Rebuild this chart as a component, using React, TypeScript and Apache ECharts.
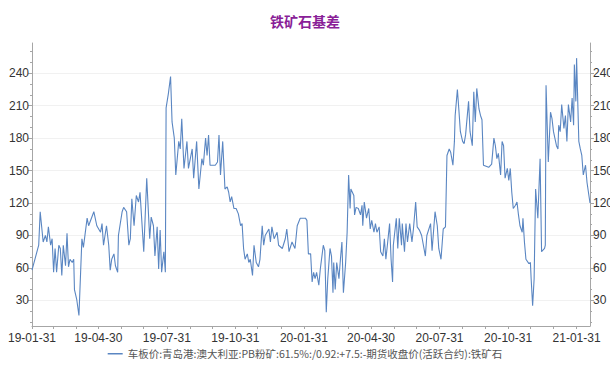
import React, { useEffect, useRef } from "react";
import * as echarts from "echarts";

const TITLE = "铁矿石基差";
const SERIES_NAME =
  "车板价:青岛港:澳大利亚:PB粉矿:61.5%:/0.92:+7.5:-期货收盘价(活跃合约):铁矿石";

// Basis observations (yuan/ton)
const dates: string[] = [
  "2019-01-31", "2019-02-09", "2019-02-11", "2019-02-15", "2019-02-18", "2019-02-20", "2019-02-22", "2019-02-25", "2019-02-27",
  "2019-03-01", "2019-03-03", "2019-03-05", "2019-03-08", "2019-03-10", "2019-03-12", "2019-03-14", "2019-03-17", "2019-03-19",
  "2019-03-21", "2019-03-23", "2019-03-26", "2019-03-28", "2019-03-29", "2019-04-01", "2019-04-04", "2019-04-08", "2019-04-10",
  "2019-04-15", "2019-04-17", "2019-04-24", "2019-04-28", "2019-05-03", "2019-05-05", "2019-05-07", "2019-05-11", "2019-05-14",
  "2019-05-16", "2019-05-18", "2019-05-21", "2019-05-23", "2019-05-26", "2019-05-27", "2019-06-01", "2019-06-03", "2019-06-07",
  "2019-06-10", "2019-06-12", "2019-06-14", "2019-06-17", "2019-06-20", "2019-06-23", "2019-06-25", "2019-06-30", "2019-07-04",
  "2019-07-08", "2019-07-10", "2019-07-13", "2019-07-15", "2019-07-18", "2019-07-20", "2019-07-22", "2019-07-24", "2019-07-27",
  "2019-07-29", "2019-07-30", "2019-08-02", "2019-08-05", "2019-08-07", "2019-08-10", "2019-08-12", "2019-08-16", "2019-08-18",
  "2019-08-20", "2019-08-23", "2019-08-27", "2019-08-29", "2019-09-03", "2019-09-05", "2019-09-09", "2019-09-12", "2019-09-16",
  "2019-09-18", "2019-09-21", "2019-09-23", "2019-09-25", "2019-09-27", "2019-10-04", "2019-10-07", "2019-10-09", "2019-10-11",
  "2019-10-14", "2019-10-17", "2019-10-20", "2019-10-22", "2019-10-24", "2019-10-26", "2019-10-29", "2019-11-01", "2019-11-04",
  "2019-11-07", "2019-11-09", "2019-11-11", "2019-11-13", "2019-11-16", "2019-11-18", "2019-11-20", "2019-11-23", "2019-11-25",
  "2019-11-28", "2019-12-01", "2019-12-03", "2019-12-06", "2019-12-08", "2019-12-10", "2019-12-15", "2019-12-17", "2019-12-19",
  "2019-12-22", "2019-12-26", "2019-12-28",
  "2020-01-02", "2020-01-06", "2020-01-08", "2020-01-11", "2020-01-15", "2020-01-19", "2020-01-22", "2020-01-26", "2020-02-02",
  "2020-02-04", "2020-02-06", "2020-02-09", "2020-02-11", "2020-02-13", "2020-02-15", "2020-02-17", "2020-02-20", "2020-02-22",
  "2020-02-26", "2020-02-28", "2020-03-01", "2020-03-03", "2020-03-06", "2020-03-08", "2020-03-10", "2020-03-11", "2020-03-13",
  "2020-03-15", "2020-03-18", "2020-03-20", "2020-03-22", "2020-03-24", "2020-03-27", "2020-03-29", "2020-03-31", "2020-04-02",
  "2020-04-03", "2020-04-07", "2020-04-08", "2020-04-10", "2020-04-13", "2020-04-16", "2020-04-18", "2020-04-19", "2020-04-21",
  "2020-04-24", "2020-04-27", "2020-04-29", "2020-05-01", "2020-05-04", "2020-05-06", "2020-05-08", "2020-05-11", "2020-05-13",
  "2020-05-16", "2020-05-18", "2020-05-20", "2020-05-22", "2020-05-25", "2020-05-27", "2020-05-29", "2020-05-30", "2020-06-03",
  "2020-06-05", "2020-06-07", "2020-06-10", "2020-06-11", "2020-06-14", "2020-06-16", "2020-06-18", "2020-06-21", "2020-06-24",
  "2020-06-26", "2020-06-29", "2020-07-01", "2020-07-04", "2020-07-07", "2020-07-12", "2020-07-14", "2020-07-19", "2020-07-21",
  "2020-07-25", "2020-07-28", "2020-07-30", "2020-08-02", "2020-08-05", "2020-08-08", "2020-08-10", "2020-08-13", "2020-08-15",
  "2020-08-18", "2020-08-20", "2020-08-21", "2020-08-24", "2020-08-26", "2020-08-28", "2020-08-31", "2020-09-02", "2020-09-04",
  "2020-09-08", "2020-09-10", "2020-09-13", "2020-09-15", "2020-09-17", "2020-09-19", "2020-09-22", "2020-09-24", "2020-09-26",
  "2020-09-28", "2020-10-05", "2020-10-09", "2020-10-12", "2020-10-14", "2020-10-16", "2020-10-18", "2020-10-21", "2020-10-23",
  "2020-10-25", "2020-10-27", "2020-10-30", "2020-11-01", "2020-11-03", "2020-11-05", "2020-11-07", "2020-11-10", "2020-11-12",
  "2020-11-14", "2020-11-16", "2020-11-19", "2020-11-20", "2020-11-22", "2020-11-24", "2020-11-28", "2020-11-30", "2020-12-01",
  "2020-12-03", "2020-12-05", "2020-12-07", "2020-12-10", "2020-12-12", "2020-12-13", "2020-12-15", "2020-12-19", "2020-12-20",
  "2020-12-21", "2020-12-24", "2020-12-27", "2020-12-29", "2020-12-31",
  "2021-01-04", "2021-01-06", "2021-01-07", "2021-01-09", "2021-01-11", "2021-01-14", "2021-01-16", "2021-01-18", "2021-01-20",
  "2021-01-23", "2021-01-25", "2021-01-27", "2021-01-28", "2021-01-30", "2021-01-31", "2021-02-03", "2021-02-05", "2021-02-07",
  "2021-02-09", "2021-02-12", "2021-02-14", "2021-02-18",
];

const values: number[] = [
  58, 81, 112, 84, 90, 84, 98, 81, 87,
  56, 78, 56, 81, 78, 53, 81, 62, 92,
  61, 68, 65, 68, 40, 31, 16, 87, 79,
  106, 99, 112, 99, 93, 101, 81, 99, 81,
  58, 68, 73, 62, 56, 90, 112, 116, 112,
  81, 87, 124, 99, 127, 121, 130, 75, 143,
  87, 107, 99, 71, 98, 59, 95, 56, 75,
  56, 208, 221, 237, 195, 180, 146, 177, 170,
  198, 152, 177, 152, 170, 143, 177, 133, 161,
  155, 180, 164, 183, 155, 155, 158, 183, 146,
  177, 133, 135, 130, 121, 126, 115, 115, 110,
  99, 101, 78, 68, 73, 65, 68, 53, 81,
  65, 61, 68, 99, 81, 90, 96, 84, 98,
  87, 93, 81,
  78, 87, 96, 75, 84, 78, 99, 106, 106,
  104, 73, 73, 47, 56, 50, 56, 44, 59,
  81, 76, 19, 50, 78, 71, 37, 65, 40,
  65, 50, 68, 84, 37, 65, 93, 146, 115,
  133, 127, 109, 116, 115, 109, 118, 99, 121,
  106, 115, 96, 104, 93, 101, 93, 98, 75,
  71, 87, 68, 81, 101, 68, 47, 81, 106,
  78, 106, 81, 101, 75, 101, 84, 101, 84,
  96, 121, 98, 95, 90, 71, 90, 101, 76,
  112, 99, 78, 68, 96, 98, 164, 170, 167,
  155, 177, 201, 225, 206, 186, 177, 175, 183,
  214, 186, 173, 223, 195, 226, 207, 201, 197,
  155, 153, 156, 180, 173, 161, 166, 146, 177,
  173, 143, 152, 141, 152, 130, 115, 118, 121,
  109, 99, 93, 106, 84, 68, 64, 65, 50,
  25, 50, 133, 106, 143, 161, 75, 78, 81,
  229, 158, 204, 198, 186,
  173, 170, 192, 186, 211, 189, 201, 177, 211,
  195, 217, 192, 248, 214, 254, 177, 170, 164,
  146, 155, 139, 120,
];

// Month-end tick marks and quarter-end labels on the date axis
const monthEndTicks: string[] = [
  "2019-01-31", "2019-02-28", "2019-03-31", "2019-04-30", "2019-05-31", "2019-06-30",
  "2019-07-31", "2019-08-31", "2019-09-30", "2019-10-31", "2019-11-30", "2019-12-31",
  "2020-01-31", "2020-02-29", "2020-03-31", "2020-04-30", "2020-05-31", "2020-06-30",
  "2020-07-31", "2020-08-31", "2020-09-30", "2020-10-31", "2020-11-30", "2020-12-31",
  "2021-01-31",
];
const quarterLabels: string[] = [
  "2019-01-31", "2019-04-30", "2019-07-31", "2019-10-31", "2020-01-31",
  "2020-04-30", "2020-07-31", "2020-10-31", "2021-01-31",
];
const yMajorTicks: number[] = [30, 60, 90, 120, 150, 180, 210, 240];
const yMinorTicks: number[] = [
  10, 20, 30, 40, 50, 60, 70, 80, 90, 100, 110, 120, 130,
  140, 150, 160, 170, 180, 190, 200, 210, 220, 230, 240, 250, 260,
];

const X_START = "2019-01-31";
const X_END = "2021-02-18";
const Y_MIN = 6.3;
const Y_MAX = 268;

const FONT = "'Liberation Sans', 'Noto Sans CJK SC', sans-serif";
const AXIS_COLOR = "#a6a6a6";
const LINE_COLOR = "#5a86c2";

// dates are kept as epoch milliseconds on a linear (value) axis
const toTime = (s: string) => +echarts.time.parse(s);

const pad2 = (n: number) => (n < 10 ? "0" + n : String(n));
const fmtDate = (v: number) => {
  const d = new Date(v);
  return `${String(d.getFullYear()).slice(2)}-${pad2(d.getMonth() + 1)}-${pad2(d.getDate())}`;
};

function makeYAxes() {
  const base = {
    type: "value" as const,
    min: Y_MIN,
    max: Y_MAX,
  };
  const major = (position: "left" | "right", grid: boolean) => ({
    ...base,
    position,
    axisLine: { show: true, lineStyle: { color: AXIS_COLOR, width: 1 } },
    axisTick: {
      show: true,
      customValues: yMajorTicks,
      length: 4,
      lineStyle: { color: AXIS_COLOR },
    },
    axisLabel: {
      show: true,
      customValues: yMajorTicks,
      fontSize: 12,
      fontFamily: FONT,
      color: "#333",
      margin: 3,
    },
    splitLine: {
      show: grid,
      lineStyle: { color: "#f1f1f1", width: 1 },
    },
  });
  const minor = (position: "left" | "right") => ({
    ...base,
    position,
    axisLine: { show: false },
    axisTick: {
      show: true,
      customValues: yMinorTicks,
      length: 2,
      lineStyle: { color: AXIS_COLOR },
    },
    axisLabel: { show: false },
    splitLine: { show: false },
  });
  return [major("left", true), minor("left"), major("right", false), minor("right")];
}

export default function App() {
  const ref = useRef<HTMLDivElement>(null);

  useEffect(() => {
    if (!ref.current) return;
    const chart = echarts.init(ref.current, null, { renderer: "svg" });
    const seriesData = dates.map((d, i) => [toTime(d), values[i]]);

    chart.setOption({
      animation: false,
      backgroundColor: "#ffffff",
      textStyle: { fontFamily: FONT },
      title: {
        text: TITLE,
        left: "center",
        top: 9,
        textStyle: {
          fontSize: 14,
          fontWeight: "bold",
          color: "#8a1f98",
          fontFamily: "'Noto Sans CJK SC', sans-serif",
        },
      },
      legend: {
        data: [SERIES_NAME],
        bottom: 10,
        left: "center",
        icon: "rect",
        itemWidth: 15,
        itemHeight: 1.5,
        itemGap: 6,
        textStyle: {
          fontSize: 10.5,
          color: "#555",
          fontFamily: "'Noto Sans CJK SC', sans-serif",
        },
      },
      grid: {
        left: 32,
        right: 20,
        top: 43,
        bottom: 48,
        containLabel: false,
        outerBoundsMode: "none",
      },
      xAxis: {
        type: "value",
        min: toTime(X_START),
        max: toTime(X_END),
        axisLine: { show: true, lineStyle: { color: AXIS_COLOR, width: 1 } },
        axisTick: {
          show: true,
          customValues: monthEndTicks.map(toTime),
          length: 3,
          lineStyle: { color: AXIS_COLOR },
        },
        axisLabel: {
          show: true,
          customValues: quarterLabels.map(toTime),
          formatter: (v: number) => fmtDate(v),
          fontSize: 12,
          fontFamily: FONT,
          color: "#333",
          margin: 6,
          hideOverlap: false,
        },
        splitLine: { show: false },
      },
      yAxis: makeYAxes(),
      series: [
        {
          name: SERIES_NAME,
          type: "line",
          yAxisIndex: 0,
          data: seriesData,
          showSymbol: false,
          symbol: "none",
          lineStyle: { color: LINE_COLOR, width: 1.1 },
          itemStyle: { color: LINE_COLOR },
        },
      ],
    });

    return () => chart.dispose();
  }, []);

  return (
    <div
      ref={ref}
      style={{ position: "fixed", left: 0, top: 0, width: 610, height: 374 }}
    />
  );
}
